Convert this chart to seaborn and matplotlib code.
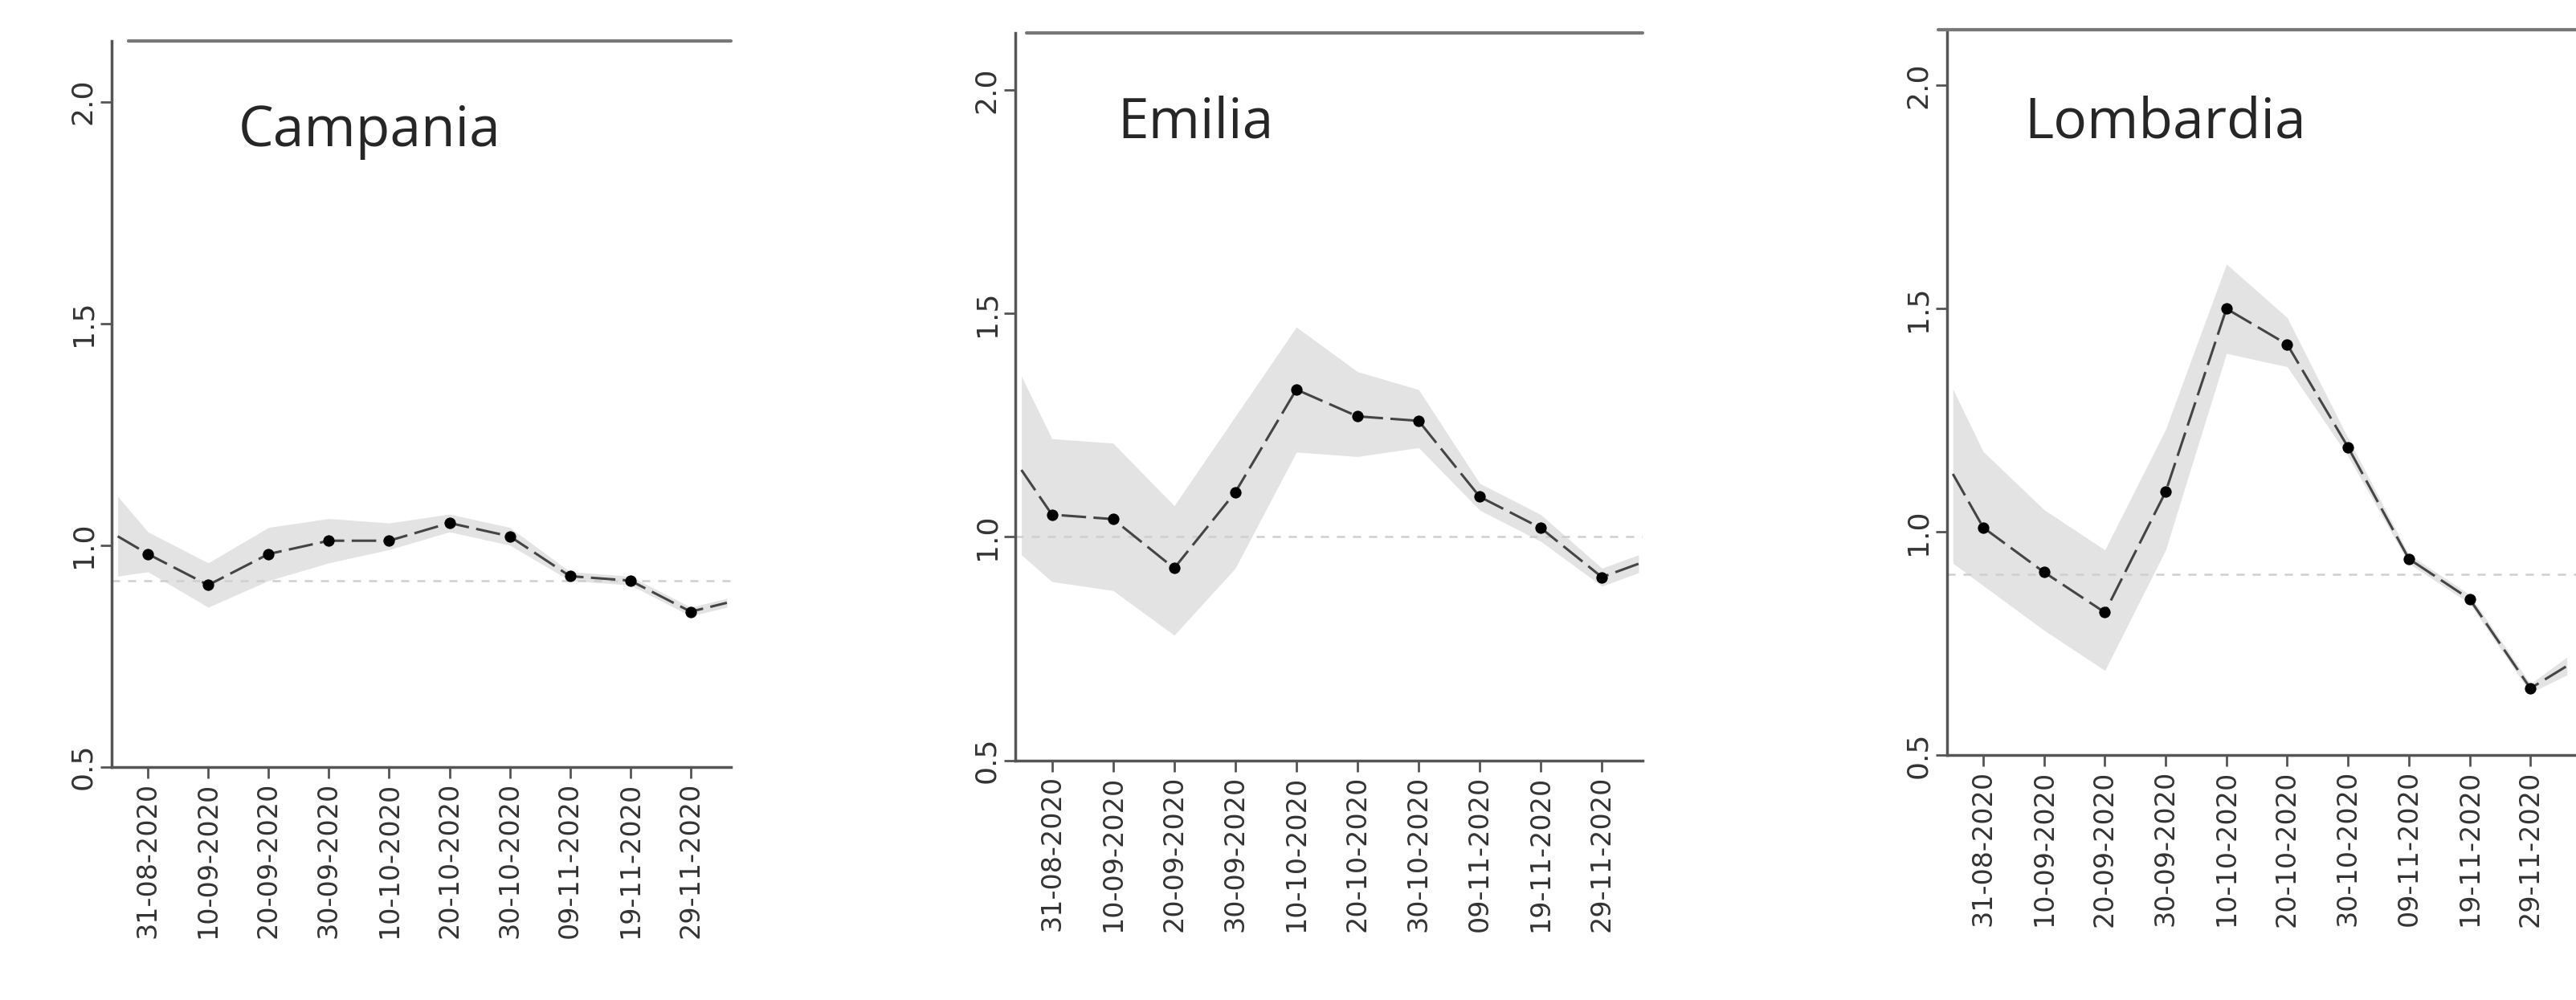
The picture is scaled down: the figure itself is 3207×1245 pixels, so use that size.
import matplotlib
matplotlib.use("Agg")
import matplotlib.pyplot as plt
import seaborn as sns
import numpy as np
import pandas as pd
from matplotlib.lines import Line2D

sns.set_theme(style="white")
plt.rcParams['font.family'] = ['DejaVu Sans']

tick_labels = ["31-08-2020", "10-09-2020", "20-09-2020", "30-09-2020", "10-10-2020",
               "20-10-2020", "30-10-2020", "09-11-2020", "19-11-2020", "29-11-2020"]
days = [-5, 0, 10, 20, 30, 40, 50, 60, 70, 80, 90, 96]
marked = [False] + [True] * 10 + [False]

regions = ["Campania", "Emilia", "Lombardia"]
campania_mid = [1.02, 0.98, 0.91, 0.98, 1.01, 1.01, 1.05, 1.02, 0.93, 0.92, 0.85, 0.87]
campania_lo = [0.93, 0.94, 0.86, 0.92, 0.96, 0.99, 1.03, 1.00, 0.92, 0.91, 0.84, 0.86]
campania_hi = [1.11, 1.03, 0.96, 1.04, 1.06, 1.05, 1.07, 1.04, 0.94, 0.93, 0.86, 0.88]
emilia_mid = [1.15, 1.05, 1.04, 0.93, 1.10, 1.33, 1.27, 1.26, 1.09, 1.02, 0.91, 0.94]
emilia_lo = [0.96, 0.90, 0.88, 0.78, 0.93, 1.19, 1.18, 1.20, 1.06, 0.99, 0.89, 0.92]
emilia_hi = [1.36, 1.22, 1.21, 1.07, 1.27, 1.47, 1.37, 1.33, 1.12, 1.05, 0.93, 0.96]
lomb_mid = [1.13, 1.01, 0.91, 0.82, 1.09, 1.50, 1.42, 1.19, 0.94, 0.85, 0.65, 0.70]
lomb_lo = [0.93, 0.88, 0.78, 0.69, 0.96, 1.40, 1.37, 1.17, 0.93, 0.84, 0.64, 0.68]
lomb_hi = [1.32, 1.18, 1.05, 0.96, 1.23, 1.60, 1.48, 1.21, 0.95, 0.86, 0.66, 0.72]
ref_levels = [0.92, 1.00, 0.905]

mids = [campania_mid, emilia_mid, lomb_mid]
los = [campania_lo, emilia_lo, lomb_lo]
his = [campania_hi, emilia_hi, lomb_hi]

W, H = 1568, 609
boxes = [(68, 445, 25, 467, 62), (618, 1000, 20, 463, 55), (1185, 1568, 18, 460, 52)]
toplines = [(78, 445), (625, 1000), (1180, 1568)]
title_pos = [(145, 80), (680, 75), (1232, 75)]

fig = plt.figure(figsize=(32.07, 12.45), dpi=100)
for i, r in enumerate(regions):
    l, rr, t, b, y2 = boxes[i]
    ax = fig.add_axes([l / W, 1 - b / H, (rr - l) / W, (b - t) / H])
    df = pd.DataFrame({"day": days, "mid": mids[i], "lo": los[i], "hi": his[i], "m": marked})
    ax.fill_between(df["day"], df["lo"], df["hi"], color="#e3e3e3", lw=0)
    ax.axhline(ref_levels[i], color="#cfcfcf", ls=(0, (4, 4)), lw=1.8)
    sns.lineplot(data=df, x="day", y="mid", ax=ax, color="#444444", lw=2.2,
                 linestyle=(0, (10, 3)))
    sns.scatterplot(data=df[df["m"]], x="day", y="mid", ax=ax, color="black", s=90,
                    edgecolor="black", zorder=5)
    per = 1.5 / (b - y2)
    ax.set_ylim(0.5, 2.0 + (y2 - t) * per)
    ax.set_xlim(-6, 96.7 if i < 2 else 97.5)
    ax.set_xticks(days[1:-1])
    ax.set_xticklabels(tick_labels, rotation=90, fontsize=24, color="#333333")
    ax.set_yticks([0.5, 1.0, 1.5, 2.0])
    ax.set_yticklabels(["0.5", "1.0", "1.5", "2.0"], rotation=90, fontsize=26,
                       color="#333333", va="center")
    ax.tick_params(axis="both", length=10, width=2, color="#555555", left=True, bottom=True)
    ax.set_xlabel("")
    ax.set_ylabel("")
    for s in ["top", "right"]:
        ax.spines[s].set_visible(False)
    for s in ["left", "bottom"]:
        ax.spines[s].set_color("#555555")
        ax.spines[s].set_linewidth(2.5)
    x0, x1 = toplines[i]
    fig.add_artist(Line2D([x0 / W, x1 / W], [1 - t / H, 1 - t / H], color="#777777", lw=3))
    tx, ty = title_pos[i]
    fig.text(tx / W, 1 - ty / H, r, fontsize=50, family="Open Sans", va="center", ha="left")

fig.savefig("out.png", dpi=100)
